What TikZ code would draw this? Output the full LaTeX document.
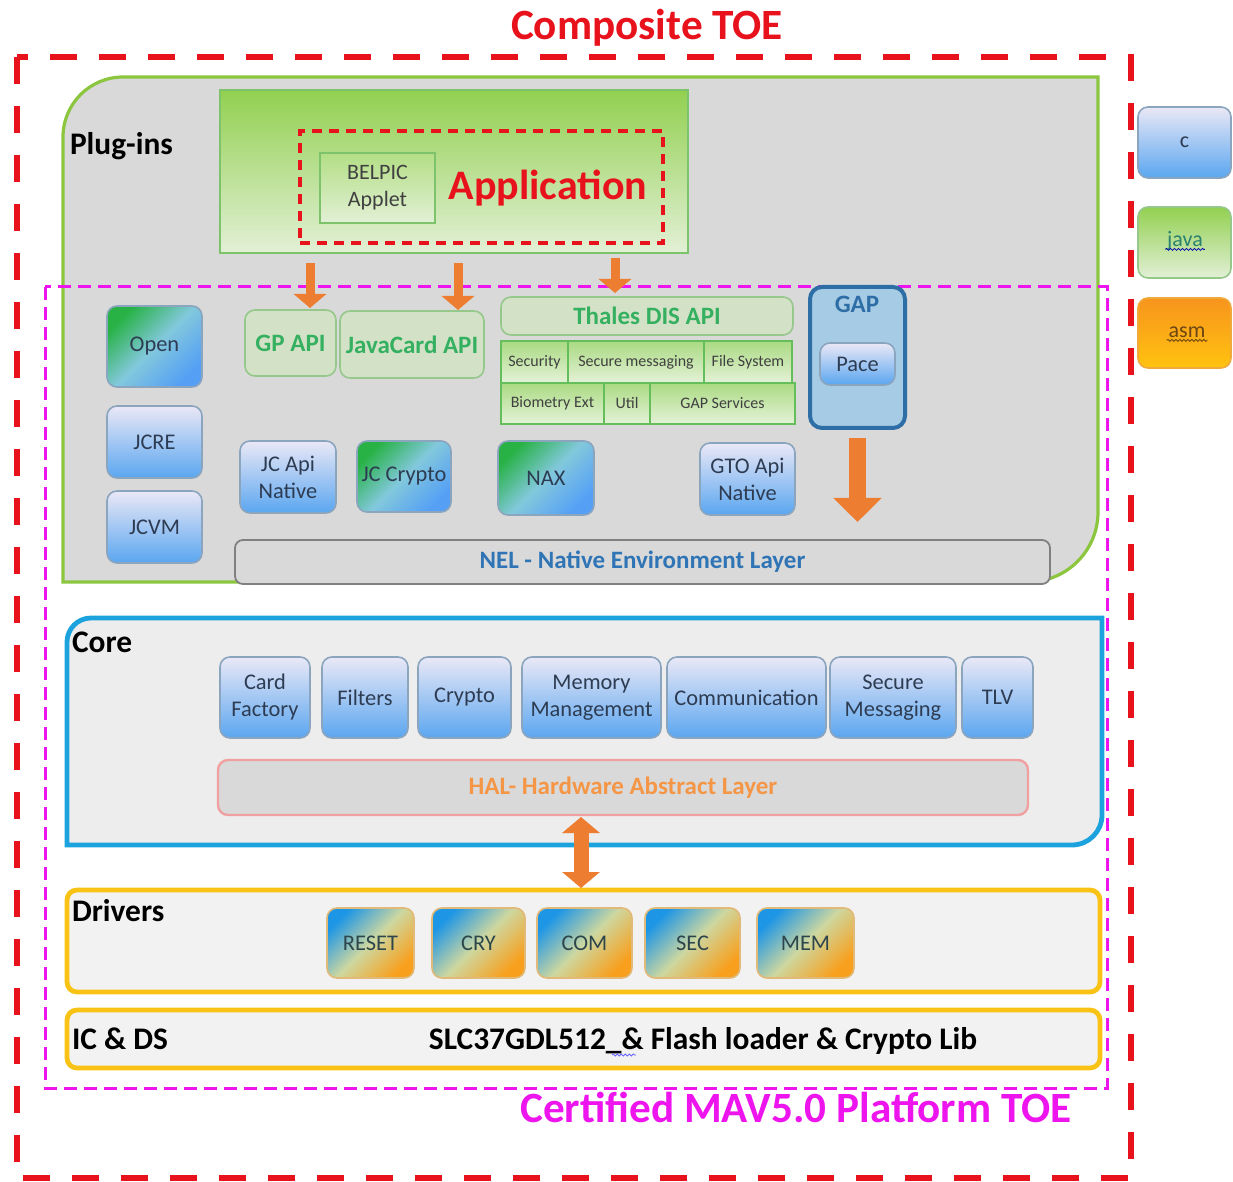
\documentclass[tikz,border=0pt]{standalone}
\usepackage{fontspec}
\setmainfont{Carlito}
\usetikzlibrary{arrows.meta,decorations.pathmorphing}
\definecolor{toered}{RGB}{232,18,28}
\definecolor{mag}{RGB}{238,20,238}
\definecolor{plugfill}{RGB}{217,217,217}
\definecolor{plugline}{RGB}{140,198,63}
\definecolor{appTop}{RGB}{146,208,80}
\definecolor{appBot}{RGB}{226,240,214}
\definecolor{appLine}{RGB}{125,195,107}
\definecolor{apiFill}{RGB}{211,226,198}
\definecolor{apiLine}{RGB}{150,200,140}
\definecolor{apiText}{RGB}{52,176,96}
\definecolor{cellTop}{RGB}{170,218,130}
\definecolor{cellBot}{RGB}{228,242,216}
\definecolor{cellLine}{RGB}{100,190,90}
\definecolor{cellText}{RGB}{64,64,64}
\definecolor{modTop}{RGB}{234,232,246}
\definecolor{modBot}{RGB}{90,166,240}
\definecolor{modLine}{RGB}{140,165,190}
\definecolor{modText}{RGB}{45,60,82}
\definecolor{gbA}{RGB}{40,178,70}
\definecolor{gbB}{RGB}{130,200,220}
\definecolor{gbC}{RGB}{85,160,245}
\definecolor{gapFill}{RGB}{166,203,228}
\definecolor{gapLine}{RGB}{46,110,166}
\definecolor{nelText}{RGB}{47,117,181}
\definecolor{nelLine}{RGB}{128,128,128}
\definecolor{coreLine}{RGB}{28,163,221}
\definecolor{coreFill}{RGB}{237,237,237}
\definecolor{halLine}{RGB}{240,160,160}
\definecolor{halText}{RGB}{245,150,70}
\definecolor{drvLine}{RGB}{248,195,20}
\definecolor{drvFill}{RGB}{242,242,242}
\definecolor{drA}{RGB}{30,150,230}
\definecolor{drB}{RGB}{205,215,160}
\definecolor{drC}{RGB}{248,160,30}
\definecolor{drLine}{RGB}{225,185,120}
\definecolor{drText}{RGB}{45,70,75}
\definecolor{arr}{RGB}{237,125,49}
\definecolor{asmTop}{RGB}{247,148,29}
\definecolor{asmBot}{RGB}{255,195,15}
\definecolor{asmLine}{RGB}{240,170,60}
\definecolor{javaText}{RGB}{40,130,110}
\definecolor{asmText}{RGB}{110,70,20}
\newcommand\ftitle{\fontsize{21.6pt}{26pt}\selectfont\bfseries}
\newcommand\fsec{\fontsize{15.7pt}{19pt}\selectfont\bfseries}
\newcommand\fapp{\fontsize{21pt}{25pt}\selectfont\bfseries}
\newcommand\fapi{\fontsize{12.5pt}{15pt}\selectfont\bfseries}
\newcommand\fmod{\fontsize{11.2pt}{13.5pt}\selectfont}
\newcommand\fcell{\fontsize{8pt}{9.6pt}\selectfont}
\newcommand\bx[7]{\node[#1,minimum width={(#4-#2)*0.5pt},minimum height={(#5-#3)*0.5pt}] (#6) at ({(#2+#4)/2},{(#3+#5)/2}) {#7};}
\begin{document}
\begin{tikzpicture}[x=0.5pt,y=-0.5pt,
  every node/.style={inner sep=1pt,outer sep=0pt},
  mod/.style={draw=modLine,line width=0.8pt,rounded corners=5pt,top color=modTop,bottom color=modBot,text=modText,font=\fmod,align=center},
  gbmod/.style={mod,top color=gbA,bottom color=gbC,middle color=gbB,shading angle=45},
  drv/.style={mod,draw=drLine,top color=drA,bottom color=drC,middle color=drB,shading angle=45,text=drText},
  apibox/.style={draw=apiLine,line width=0.8pt,rounded corners=5pt,fill=apiFill,text=apiText,font=\fapi},
  cell/.style={draw=cellLine,line width=0.9pt,top color=cellTop,bottom color=cellBot,text=cellText,font=\fcell},
  seclabel/.style={font=\fsec,anchor=base west},
  sarrow/.style={draw=arr,line width=4.5pt,-{Triangle[width=16pt,length=7pt]}},
  barrow/.style={draw=arr,line width=8.5pt,-{Triangle[width=23.5pt,length=12pt]}},
  darrow/.style={draw=arr,line width=7.5pt,{Triangle[width=18.5pt,length=8pt]}-{Triangle[width=18.5pt,length=8pt]}},
  squig/.style={decorate,decoration={snake,amplitude=0.5pt,segment length=2pt},line width=0.4pt}
]
\useasboundingbox (0,0) rectangle (1233,1182);

% titles and outer TOE frame
\node[font=\ftitle,text=toered,anchor=base] (ctoe) at (647,40) {Composite TOE};
\draw[toered,line width=3pt,dash pattern=on 13.5pt off 11pt] (17,57) rectangle (1131,1178);

% Plug-ins container
\filldraw[fill=plugfill,draw=plugline,line width=1.6pt]
  (63,582) -- (63,137) arc[start angle=180,end angle=90,radius=30pt]
  -- (1098,77) -- (1098,512) arc[start angle=0,end angle=-90,radius=35pt] -- cycle;
\node[seclabel] (plugl) at (68,155) {Plug-ins};

% Application
\bx{draw=appLine,line width=0.8pt,top color=appTop,bottom color=appBot}{220}{90}{688}{253}{app}{}
\bx{draw=toered,line width=1.6pt,dash pattern=on 5pt off 3.5pt}{300}{131}{663}{243}{appdash}{}
\bx{draw=appLine,line width=0.9pt,top color=appTop!70!white,bottom color=appBot,text=cellText,font=\fontsize{11pt}{13.5pt}\selectfont,align=center}{320}{153}{435}{223}{belpic}{BELPIC\\Applet}
\node[font=\fapp,text=toered,anchor=base] (apptxt) at (548,200) {Application};

% Platform TOE frame
\draw[mag,line width=1.5pt,dash pattern=on 6.5pt off 3.5pt] (45,287) rectangle (1107,1088);

% APIs
\bx{apibox}{245}{310}{336}{376}{gpapi}{GP API}
\bx{apibox}{340}{311}{484}{378}{jcapi}{JavaCard API}
\bx{apibox}{501}{297}{793}{335}{thales}{Thales DIS API}
\bx{cell}{501}{341}{568}{383}{csec}{Security}
\bx{cell}{568}{341}{704}{383}{csm}{Secure messaging}
\bx{cell}{704}{341}{792}{383}{cfs}{File System}
\bx{cell}{501}{383}{604}{424}{cbio}{Biometry Ext}
\bx{cell}{604}{383}{650}{424}{cutil}{Util}
\bx{cell}{650}{383}{795}{424}{cgaps}{GAP Services}

% GAP
\bx{draw=gapLine,line width=2pt,rounded corners=6pt,fill=gapFill}{810}{287}{905}{428}{gap}{}
\node[font=\fapi,text=gapLine,anchor=base] (gapl) at (857,313) {GAP};
\bx{mod}{820}{343}{895}{385}{pace}{Pace}

% plug-in modules
\bx{gbmod}{107}{306}{202}{387}{open}{Open}
\bx{mod}{107}{406}{202}{478}{jcre}{JCRE}
\bx{mod}{107}{491}{202}{563}{jcvm}{JCVM}
\bx{mod}{240}{441}{336}{513}{jcapin}{JC Api\\Native}
\bx{gbmod}{357}{441}{451}{512}{jccrypto}{JC Crypto}
\bx{gbmod}{498}{441}{594}{515}{nax}{NAX}
\bx{mod}{700}{443}{795}{515}{gto}{GTO Api\\Native}
\bx{draw=nelLine,line width=0.9pt,rounded corners=4pt,fill=plugfill,text=nelText,font=\fapi}{235}{540}{1050}{584}{nel}{NEL - Native Environment Layer}

% arrows in plug-ins
\coordinate (ax1) at (310,0);
\coordinate (ax2) at (458,0);
\coordinate (ax3) at (615,0);
\coordinate (ax4) at (581,0);
\draw[sarrow,shorten <=5pt,shorten >=1pt] (app.south -| ax1) -- (gpapi.north -| ax1);
\draw[sarrow,shorten <=5pt,shorten >=0.5pt] (app.south -| ax2) -- (jcapi.north -| ax2);
\draw[sarrow,shorten <=2.5pt,shorten >=2pt] (app.south -| ax3) -- (thales.north -| ax3);
\draw[barrow,shorten <=5pt,shorten >=9pt] (gap.south) -- (nel.north -| gap.south);

% Core
\filldraw[fill=coreFill,draw=coreLine,line width=2.4pt]
  (67,845) -- (67,642) arc[start angle=180,end angle=90,radius=12pt]
  -- (1102,618) -- (1102,815) arc[start angle=0,end angle=-90,radius=15pt] -- cycle;
\node[seclabel] (corel) at (70,652) {Core};
\bx{mod}{220}{657}{310}{738}{cardf}{Card\\Factory}
\bx{mod}{322}{657}{408}{738}{filters}{Filters}
\bx{mod}{418}{657}{511}{738}{crypto}{Crypto}
\bx{mod}{522}{657}{661}{738}{memm}{Memory\\Management}
\bx{mod}{667}{657}{826}{738}{comm}{Communication}
\bx{mod}{830}{657}{956}{738}{smsg}{Secure\\Messaging}
\bx{mod}{962}{657}{1033}{738}{tlv}{TLV}
\bx{draw=halLine,line width=1.2pt,rounded corners=5pt,fill=plugfill,text=halText,font=\fapi}{218}{760}{1028}{815}{hal}{HAL- Hardware Abstract Layer}

% Drivers
\bx{draw=drvLine,line width=2.4pt,rounded corners=5pt,fill=drvFill}{67}{890}{1100}{992}{drivers}{}
\node[seclabel] (drvl) at (70,921) {Drivers};
\bx{drv}{327}{908}{414}{978}{reset}{RESET}
\bx{drv}{432}{908}{525}{978}{cry}{CRY}
\bx{drv}{537}{908}{632}{978}{com}{COM}
\bx{drv}{645}{908}{740}{978}{secd}{SEC}
\bx{drv}{757}{908}{854}{978}{mem}{MEM}
\draw[darrow,shorten <=1pt,shorten >=1pt] (hal.south -| ax4) -- (drivers.north -| ax4);

% IC & DS
\bx{draw=drvLine,line width=2.4pt,rounded corners=5pt,fill=drvFill}{67}{1010}{1100}{1068}{icds}{}
\node[seclabel] (icl) at (70,1049) {IC \& DS};
\node[font=\fsec,anchor=base] (slc) at (703,1049) {SLC37GDL512\_\& Flash loader \& Crypto Lib};
\draw[squig,draw=blue!60] (612,1055) -- (636,1055);

\node[font=\ftitle,text=mag,anchor=base] (cert) at (796,1122) {Certified MAV5.0 Platform TOE};

% legend
\bx{mod,font=\fontsize{11pt}{13pt}\selectfont}{1138}{107}{1231}{178}{lc}{c}
\bx{mod,draw=apiLine,top color=appTop,bottom color=appBot,text=javaText,font=\fontsize{11pt}{13pt}\selectfont}{1138}{207}{1231}{278}{ljava}{}
\node[font=\fontsize{11pt}{13pt}\selectfont,text=javaText,anchor=base] (javat) at (1185,247) {java};
\draw[squig,draw=blue!70!black] ([yshift=-1.2pt]javat.base west) -- ([yshift=-1.2pt]javat.base east);
\bx{mod,draw=asmLine,top color=asmTop,bottom color=asmBot}{1138}{298}{1231}{368}{lasm}{}
\node[font=\fontsize{11pt}{13pt}\selectfont,text=asmText,anchor=base] (asmt) at (1187,338) {asm};
\draw[squig,draw=asmText] ([yshift=-1.2pt]asmt.base west) -- ([yshift=-1.2pt]asmt.base east);
\end{tikzpicture}
\end{document}
